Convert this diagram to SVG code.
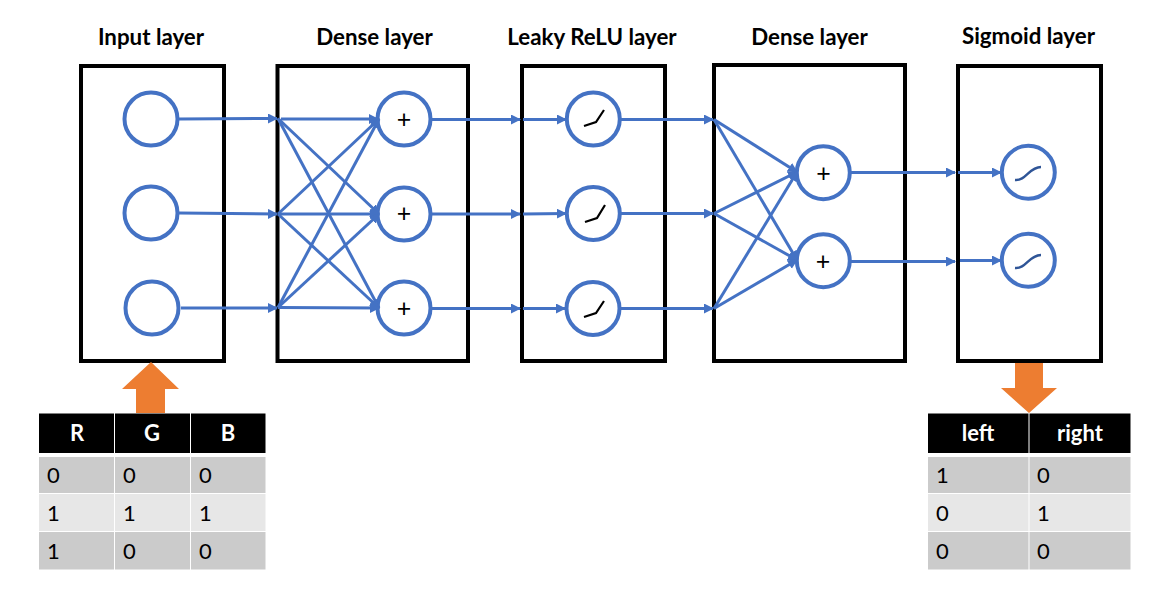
<svg xmlns="http://www.w3.org/2000/svg" width="1166" height="592" viewBox="0 0 1166 592">
<style>
text{font-family:"Lato","Open Sans","Liberation Sans",sans-serif}
.layer{fill:none;stroke:#000;stroke-width:4}
.n{fill:#fff;stroke:#4472C4;stroke-width:4}
.c{fill:none;stroke:#4472C4;stroke-width:3;marker-end:url(#a)}
.t{font-size:22.300px;font-weight:700;fill:#000;text-anchor:middle}
.p{font-size:25px;fill:#000;text-anchor:middle}
.h{font-size:22px;font-weight:700;fill:#fff;text-anchor:middle}
.d{font-size:22px;fill:#000}
.lk{fill:none;stroke:#000;stroke-width:2.200}
.sg{fill:none;stroke:#2F5597;stroke-width:2.400}
.o{fill:#ED7D31}
</style>
<defs>
<marker id="a" markerUnits="userSpaceOnUse" markerWidth="11" markerHeight="11" refX="9" refY="5" orient="auto"><path d="M0 0L10 5L0 10z" fill="#4472C4"/></marker>
</defs>
<rect width="1166" height="592" fill="#fff"/>
<g id="titles">
<text class="t" x="151" y="45">Input layer</text>
<text class="t" x="374.500" y="45">Dense layer</text>
<text class="t" x="592" y="45">Leaky ReLU layer</text>
<text class="t" x="809.500" y="45">Dense layer</text>
<text class="t" x="1028.500" y="44">Sigmoid layer</text>
</g>
<g id="layers">
<rect id="layer-input" class="layer" x="81" y="66" width="143" height="295"/>
<rect id="layer-dense1" class="layer" x="277.500" y="66" width="190.500" height="295"/>
<rect id="layer-leaky" class="layer" x="522" y="66" width="143" height="295"/>
<rect id="layer-dense2" class="layer" x="714" y="65" width="191" height="296"/>
<rect id="layer-sigmoid" class="layer" x="958" y="66" width="143" height="295"/>
</g>
<g id="in1"><circle class="n" cx="151" cy="119" r="26.500"/></g>
<g id="in2"><circle class="n" cx="151" cy="213" r="26.500"/></g>
<g id="in3"><circle class="n" cx="152" cy="308" r="26.500"/></g>
<g id="d1a"><circle class="n" cx="404" cy="119" r="26.500"/><text class="p" x="404" y="128">+</text></g>
<g id="d1b"><circle class="n" cx="404" cy="214" r="26.500"/><text class="p" x="404" y="222">+</text></g>
<g id="d1c"><circle class="n" cx="404" cy="308" r="26.500"/><text class="p" x="404" y="317">+</text></g>
<g id="lk1"><circle class="n" cx="593.300" cy="119" r="26.500"/><path class="lk" d="M584 126L596 122L604 110"/></g>
<g id="lk2"><circle class="n" cx="593.300" cy="213.500" r="26.500"/><path class="lk" d="M585 222L597 218L605 205"/></g>
<g id="lk3"><circle class="n" cx="593" cy="308.500" r="26.500"/><path class="lk" d="M584 317L596 313L604 301"/></g>
<g id="d2a"><circle class="n" cx="823.300" cy="172.700" r="26.500"/><text class="p" x="823.500" y="182">+</text></g>
<g id="d2b"><circle class="n" cx="823.300" cy="260.700" r="26.500"/><text class="p" x="823" y="270">+</text></g>
<g id="sg1"><circle class="n" cx="1028.300" cy="172.300" r="26.500"/><path class="sg" d="M1015 180C1026 181 1029 167 1041 167"/></g>
<g id="sg2"><circle class="n" cx="1028.300" cy="260.300" r="26.500"/><path class="sg" d="M1015 268C1026 269 1029 255 1041 255"/></g>
<g id="connectors">
<path class="c" d="M179 119L277 118.500"/>
<path class="c" d="M179 213L277 214"/>
<path class="c" d="M181 308L277 308"/>
<path class="c" d="M281 119L378 119"/>
<path class="c" d="M278 118.500L379 214"/>
<path class="c" d="M278 118.500L379 308"/>
<path class="c" d="M278 214L379 119"/>
<path class="c" d="M278 214L379 214"/>
<path class="c" d="M278 214L379 308"/>
<path class="c" d="M278 307.500L379 119"/>
<path class="c" d="M278 307.500L379 214"/>
<path class="c" d="M278 307.500L379 308"/>
<path class="c" d="M432 119.500L520 119.500"/>
<path class="c" d="M432 214L520 214"/>
<path class="c" d="M432 308.500L520 308.500"/>
<path class="c" d="M523 119.500L566 119.500"/>
<path class="c" d="M523 214L566 213.500"/>
<path class="c" d="M523 308.500L565 308.500"/>
<path class="c" d="M621 119.500L713 119.500"/>
<path class="c" d="M621 213.500L713 213.500"/>
<path class="c" d="M621 308.500L713 308.500"/>
<path class="c" d="M714 119.500L797 172"/>
<path class="c" d="M714 119.500L797 260"/>
<path class="c" d="M714 213.500L797 172"/>
<path class="c" d="M714 213.500L797 260"/>
<path class="c" d="M714 308.500L797 172"/>
<path class="c" d="M714 308.500L797 260"/>
<path class="c" d="M851 172.500L955 172.500"/>
<path class="c" d="M851 261.500L955 261.500"/>
<path class="c" d="M958 172.500L1001 172.500"/>
<path class="c" d="M960 260.500L1001 260.500"/>
</g>
<g id="arrow-in"><path class="o" d="M151 362L179 389H165V413H136V389H122z"/></g>
<g id="arrow-out"><path class="o" d="M1015 363H1043V388H1057L1029 413L1001 388H1015z"/></g>
<g id="table-in">
<rect x="39" y="413.500" width="75" height="39.500" fill="#000"/><rect x="115" y="413.500" width="75" height="39.500" fill="#000"/><rect x="191" y="413.500" width="74.500" height="39.500" fill="#000"/>
<rect x="39" y="457" width="75" height="36" fill="#CBCBCB"/><rect x="115" y="457" width="75" height="36" fill="#CBCBCB"/><rect x="191" y="457" width="74.500" height="36" fill="#CBCBCB"/>
<rect x="39" y="494" width="75" height="37" fill="#E7E7E7"/><rect x="115" y="494" width="75" height="37" fill="#E7E7E7"/><rect x="191" y="494" width="74.500" height="37" fill="#E7E7E7"/>
<rect x="39" y="532" width="75" height="37.500" fill="#CBCBCB"/><rect x="115" y="532" width="75" height="37.500" fill="#CBCBCB"/><rect x="191" y="532" width="74.500" height="37.500" fill="#CBCBCB"/>
<text class="h" x="77" y="441">R</text><text class="h" x="152" y="441">G</text><text class="h" x="228" y="441">B</text>
<text class="d" x="47" y="483">0</text><text class="d" x="123" y="483">0</text><text class="d" x="199" y="483">0</text>
<text class="d" x="47" y="521">1</text><text class="d" x="123" y="521">1</text><text class="d" x="199" y="521">1</text>
<text class="d" x="47" y="559">1</text><text class="d" x="123" y="559">0</text><text class="d" x="199" y="559">0</text>
</g>
<g id="table-out">
<rect x="928" y="413.500" width="100.500" height="39.500" fill="#000"/><rect x="1029.500" y="413.500" width="101" height="39.500" fill="#000"/>
<rect x="928" y="457" width="100.500" height="36" fill="#CBCBCB"/><rect x="1029.500" y="457" width="101" height="36" fill="#CBCBCB"/>
<rect x="928" y="494" width="100.500" height="37" fill="#E7E7E7"/><rect x="1029.500" y="494" width="101" height="37" fill="#E7E7E7"/>
<rect x="928" y="532" width="100.500" height="37.500" fill="#CBCBCB"/><rect x="1029.500" y="532" width="101" height="37.500" fill="#CBCBCB"/>
<text class="h" x="978" y="441">left</text><text class="h" x="1080" y="441">right</text>
<text class="d" x="936" y="483">1</text><text class="d" x="1037" y="483">0</text>
<text class="d" x="936" y="521">0</text><text class="d" x="1037" y="521">1</text>
<text class="d" x="936" y="559">0</text><text class="d" x="1037" y="559">0</text>
</g>
</svg>
